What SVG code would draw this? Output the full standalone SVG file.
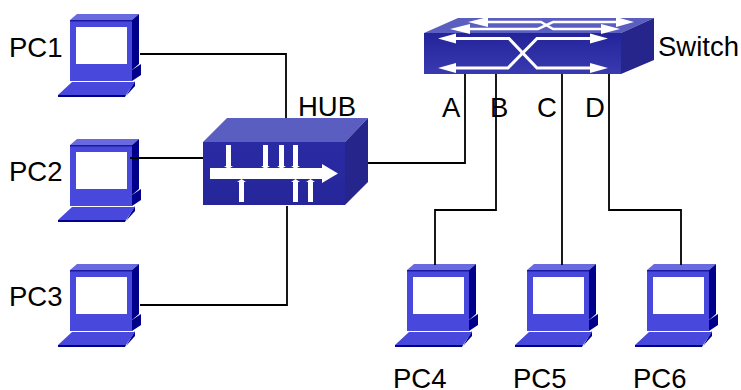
<svg xmlns="http://www.w3.org/2000/svg" xmlns:xlink="http://www.w3.org/1999/xlink" width="741" height="390" viewBox="0 0 741 390">
<style>
text{font-family:"Liberation Sans",Arial,sans-serif;font-size:27.500px;fill:#000}
.c{fill:none;stroke:#000;stroke-width:1.800}
.w{fill:none;stroke:#fff;stroke-width:2.500}
.x{fill:none;stroke:#fff;stroke-width:3}
.wf{fill:#fff}
</style>
<defs>
<linearGradient id="hf" x1="0" y1="0" x2="0" y2="1"><stop offset="0" stop-color="#2a2aa4"/><stop offset="1" stop-color="#26269a"/></linearGradient>
<linearGradient id="sf" x1="0" y1="0" x2="0" y2="1"><stop offset="0" stop-color="#23239a"/><stop offset="1" stop-color="#3a3ab0"/></linearGradient>
<g id="pc">
<path d="M70 20L77 14H139L132 20Z" fill="#6a6ae0"/>
<path d="M132 20L139 14V64L132 70Z" fill="#00008a"/>
<rect x="70" y="20" width="62" height="50" fill="#4848dc"/>
<rect x="70" y="20" width="62" height="1.500" fill="#1a1aa0"/>
<rect x="76" y="27" width="51" height="37" fill="#fff"/>
<path d="M132 70L141 64V75L132 81Z" fill="#00008a"/>
<rect x="70" y="70" width="62" height="11" fill="#4848dc"/>
<path d="M135 81V86L126 96Z" fill="#00008a"/>
<path d="M72 82H135L126 95H58Z" fill="#4848dc"/>
<path d="M58 95H126L125 97H58Z" fill="#00008a"/>
</g>
</defs>
<g id="pc1"><use xlink:href="#pc" href="#pc"/><text x="9" y="57">PC1</text></g>
<g id="pc2"><use xlink:href="#pc" href="#pc" y="125"/><text x="9" y="181">PC2</text></g>
<g id="pc3"><use xlink:href="#pc" href="#pc" y="250"/><text x="9" y="306">PC3</text></g>
<g id="pc4"><use xlink:href="#pc" href="#pc" x="337" y="250"/><text x="393" y="388">PC4</text></g>
<g id="pc5"><use xlink:href="#pc" href="#pc" x="457" y="250"/><text x="513" y="388">PC5</text></g>
<g id="pc6"><use xlink:href="#pc" href="#pc" x="577" y="250"/><text x="633" y="388">PC6</text></g>
<g id="connectors">
<path class="c" d="M140 54H286V118"/>
<path class="c" d="M130 158H203"/>
<path class="c" d="M140 305H287V206"/>
<path class="c" d="M368 163H465V74"/>
<path class="c" d="M496 74V210H435V265"/>
<path class="c" d="M562 74V265"/>
<path class="c" d="M609 74V210H681V265"/>
</g>
<g id="hub">
<path d="M203 142L227 118H368L345 142Z" fill="#5a5ec0"/>
<path d="M345 142L368 118V182L345 205Z" fill="#25258c"/>
<rect x="203" y="142" width="142" height="63" fill="url(#hf)"/>
<path class="wf" d="M210 168H322V164L338 173.500L322 183V179H210Z"/>
<g fill="#fff">
<path d="M226 145H231V166H226Z"/><path d="M224 166H233L228.500 169Z"/>
<path d="M263 145H268V166H263Z"/><path d="M261 166H270L265.500 169Z"/>
<path d="M279 145H284V166H279Z"/><path d="M277 166H286L281.500 169Z"/>
<path d="M293 145H298V166H293Z"/><path d="M291 166H300L295.500 169Z"/>
<path d="M239 182H244V202H239Z"/><path d="M237 182H246L241.500 179Z"/>
<path d="M293 182H298V202H293Z"/><path d="M291 182H300L295.500 179Z"/>
<path d="M308 182H313V202H308Z"/><path d="M306 182H315L310.500 179Z"/>
</g>
<text x="298" y="116">HUB</text>
</g>
<g id="switch">
<path d="M424 33L458 18H654L621 33Z" fill="#5a5ec0"/>
<path d="M621 33L654 18V60L621 74Z" fill="#25258c"/>
<rect x="424" y="33" width="197" height="41" fill="url(#sf)"/>
<path class="w" d="M486 22H541L553 29H603"/>
<path class="w" d="M468 29H538L553 22H618"/>
<path class="x" d="M454 38.500H509L537 68H592"/>
<path class="x" d="M454 68H508L537 38.500H592"/>
<g fill="#fff">
<path d="M468 22L488 17V27Z"/><path d="M634 22L616 17V27Z"/>
<path d="M450 29L470 24V34Z"/><path d="M620 29L601 24V34Z"/>
<path d="M438 38.500L456 33.500V43.500Z"/><path d="M608 38.500L590 33.500V43.500Z"/>
<path d="M438 68L456 63V73Z"/><path d="M608 68L590 63V73Z"/>
</g>
<text x="658" y="56">Switch</text>
</g>
<g id="ports">
<text x="442" y="117">A</text>
<text x="490" y="117">B</text>
<text x="537" y="117">C</text>
<text x="585" y="117">D</text>
</g>
</svg>
